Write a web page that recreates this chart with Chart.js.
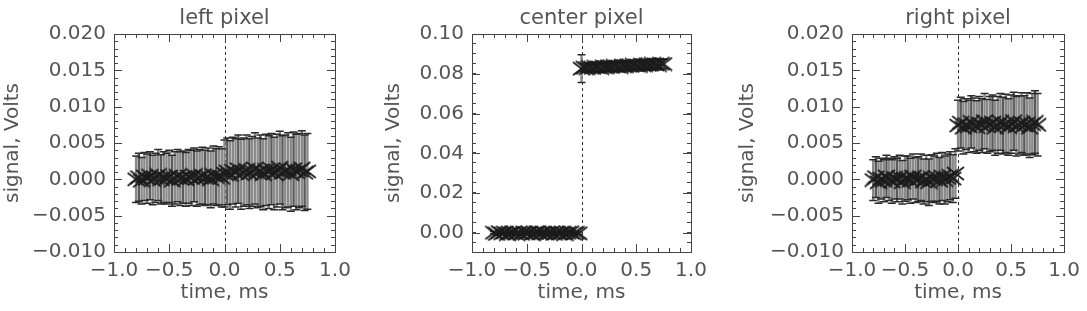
<!DOCTYPE html>
<html>
<head>
<meta charset="utf-8">
<script src="https://cdn.jsdelivr.net/npm/chart.js@4"></script>
<style>
  html, body { margin: 0; padding: 0; background: #fff; }
  #wrap { position: relative; width: 1087px; height: 311px; overflow: hidden; }
  #wrap canvas { position: absolute; top: 0; }
</style>
</head>
<body>
<div id="wrap">
  <canvas id="c-left" width="362" height="311" style="left:0"></canvas>
  <canvas id="c-center" width="362" height="311" style="left:362px"></canvas>
  <canvas id="c-right" width="363" height="311" style="left:724px"></canvas>
</div>
<script>
// sample times (ms), shared by the three pixels
const timeMs = [
  -0.800, -0.775, -0.750, -0.725, -0.700, -0.675, -0.650, -0.625,
  -0.600, -0.575, -0.550, -0.525, -0.500, -0.475, -0.450, -0.425,
  -0.400, -0.375, -0.350, -0.325, -0.300, -0.275, -0.250, -0.225,
  -0.200, -0.175, -0.150, -0.125, -0.100, -0.075, -0.050, -0.025,
  0.000, 0.025, 0.050, 0.075, 0.100, 0.125, 0.150, 0.175,
  0.200, 0.225, 0.250, 0.275, 0.300, 0.325, 0.350, 0.375,
  0.400, 0.425, 0.450, 0.475, 0.500, 0.525, 0.550, 0.575,
  0.600, 0.625, 0.650, 0.675, 0.700, 0.725, 0.750
];

// left pixel signal (V) and error
const leftSignal = [
  0.0000, 0.0003, -0.0002, 0.0004, 0.0001, 0.0005, -0.0001, 0.0002,
  0.0006, 0.0000, 0.0003, 0.0001, 0.0004, -0.0002, 0.0002, 0.0005,
  0.0001, 0.0003, 0.0000, 0.0004, 0.0002, 0.0006, 0.0001, 0.0003,
  0.0005, 0.0002, 0.0004, 0.0000, 0.0006, 0.0003, 0.0005, 0.0002,
  0.0008, 0.0011, 0.0006, 0.0012, 0.0009, 0.0014, 0.0007, 0.0010,
  0.0013, 0.0008, 0.0011, 0.0015, 0.0009, 0.0012, 0.0007, 0.0013,
  0.0010, 0.0014, 0.0008, 0.0012, 0.0016, 0.0009, 0.0011, 0.0013,
  0.0007, 0.0014, 0.0010, 0.0012, 0.0015, 0.0009, 0.0011
];
const leftError = [
  0.0032, 0.0033, 0.0032, 0.0033, 0.0034, 0.0033, 0.0034, 0.0034,
  0.0035, 0.0034, 0.0035, 0.0035, 0.0036, 0.0035, 0.0036, 0.0036,
  0.0037, 0.0036, 0.0037, 0.0037, 0.0038, 0.0037, 0.0038, 0.0038,
  0.0039, 0.0038, 0.0039, 0.0039, 0.0040, 0.0039, 0.0040, 0.0040,
  0.0046, 0.0046, 0.0047, 0.0046, 0.0047, 0.0047, 0.0048, 0.0047,
  0.0048, 0.0048, 0.0048, 0.0049, 0.0048, 0.0049, 0.0049, 0.0049,
  0.0050, 0.0049, 0.0050, 0.0050, 0.0050, 0.0051, 0.0050, 0.0051,
  0.0051, 0.0051, 0.0052, 0.0051, 0.0052, 0.0052, 0.0052
];

// center pixel
const centerSignal = [
  0.0002, -0.0004, 0.0005, -0.0001, 0.0003, -0.0005, 0.0000, 0.0004,
  -0.0003, 0.0002, -0.0004, 0.0004, -0.0001, 0.0003, -0.0005, 0.0001,
  0.0005, -0.0002, 0.0003, -0.0003, 0.0000, 0.0004, -0.0004, 0.0002,
  -0.0002, 0.0003, -0.0005, 0.0002, 0.0004, -0.0003, 0.0001, -0.0001,
  0.0826, 0.0831, 0.0829, 0.0834, 0.0830, 0.0835, 0.0833, 0.0829,
  0.0836, 0.0834, 0.0838, 0.0835, 0.0840, 0.0837, 0.0834, 0.0841,
  0.0839, 0.0843, 0.0840, 0.0845, 0.0842, 0.0839, 0.0846, 0.0844,
  0.0848, 0.0845, 0.0850, 0.0847, 0.0844, 0.0851, 0.0849
];
const centerError = [
  0.0006, 0.0006, 0.0007, 0.0006, 0.0006, 0.0007, 0.0006, 0.0006,
  0.0007, 0.0006, 0.0006, 0.0007, 0.0006, 0.0006, 0.0007, 0.0006,
  0.0006, 0.0007, 0.0006, 0.0006, 0.0007, 0.0006, 0.0006, 0.0007,
  0.0006, 0.0006, 0.0007, 0.0006, 0.0006, 0.0007, 0.0006, 0.0006,
  0.0070, 0.0021, 0.0021, 0.0022, 0.0021, 0.0022, 0.0022, 0.0021,
  0.0022, 0.0022, 0.0023, 0.0022, 0.0022, 0.0023, 0.0022, 0.0023,
  0.0023, 0.0022, 0.0023, 0.0023, 0.0024, 0.0023, 0.0023, 0.0024,
  0.0023, 0.0024, 0.0024, 0.0023, 0.0024, 0.0024, 0.0024
];

// right pixel
const rightSignal = [
  -0.0001, 0.0003, -0.0004, 0.0001, -0.0002, 0.0004, 0.0000, -0.0003,
  0.0002, -0.0001, 0.0003, -0.0004, 0.0001, 0.0002, -0.0002, 0.0004,
  -0.0001, 0.0000, 0.0003, -0.0003, 0.0001, -0.0004, 0.0002, 0.0000,
  0.0003, -0.0002, 0.0004, -0.0001, 0.0002, 0.0005, 0.0001, 0.0008,
  0.0074, 0.0078, 0.0071, 0.0076, 0.0073, 0.0079, 0.0075, 0.0072,
  0.0077, 0.0074, 0.0080, 0.0073, 0.0076, 0.0078, 0.0071, 0.0075,
  0.0079, 0.0074, 0.0077, 0.0072, 0.0076, 0.0080, 0.0073, 0.0075,
  0.0078, 0.0074, 0.0077, 0.0071, 0.0076, 0.0079, 0.0075
];
const rightError = [
  0.0028, 0.0028, 0.0029, 0.0028, 0.0029, 0.0029, 0.0029, 0.0030,
  0.0029, 0.0030, 0.0030, 0.0030, 0.0031, 0.0030, 0.0031, 0.0031,
  0.0031, 0.0031, 0.0032, 0.0031, 0.0032, 0.0032, 0.0032, 0.0032,
  0.0033, 0.0032, 0.0033, 0.0033, 0.0033, 0.0033, 0.0033, 0.0034,
  0.0035, 0.0035, 0.0036, 0.0035, 0.0036, 0.0036, 0.0037, 0.0036,
  0.0037, 0.0037, 0.0038, 0.0037, 0.0038, 0.0038, 0.0038, 0.0039,
  0.0039, 0.0039, 0.0040, 0.0039, 0.0040, 0.0040, 0.0041, 0.0040,
  0.0041, 0.0041, 0.0042, 0.0041, 0.0042, 0.0043, 0.0043
];

// axis ticks
const xTicks = [-1.0, -0.5, 0.0, 0.5, 1.0];
const smallYTicks = [-0.010, -0.005, 0.000, 0.005, 0.010, 0.015, 0.020];
const centerYTicks = [0.00, 0.02, 0.04, 0.06, 0.08, 0.10];

const TEXT = '#555';
const FONT = 'DejaVu Sans';

function fmt(v, digits) {
  if (Math.abs(v) < 1e-9) v = 0;
  return v.toFixed(digits).replace('-', '\u2212');
}

// wide "x" marker like the IDL psym
function makeCross(w, h) {
  const c = document.createElement('canvas');
  c.width = w;
  c.height = h;
  const g = c.getContext('2d');
  g.strokeStyle = '#1c1c1c';
  g.lineWidth = 1.7;
  g.beginPath();
  g.moveTo(1, 1); g.lineTo(w - 1, h - 1);
  g.moveTo(1, h - 1); g.lineTo(w - 1, 1);
  g.stroke();
  return c;
}
const crossMark = makeCross(19, 15);

// frame, inward ticks on all sides, zero line and error bars
const idlFrame = {
  id: 'idlFrame',
  beforeDatasetsDraw(chart, args, opts) {
    const {ctx, chartArea: a, scales: {x, y}} = chart;
    ctx.save();
    ctx.strokeStyle = '#333';
    ctx.lineWidth = 1;
    ctx.setLineDash([3, 3]);
    const x0 = Math.round(x.getPixelForValue(0)) + 0.5;
    ctx.beginPath();
    ctx.moveTo(x0, a.top);
    ctx.lineTo(x0, a.bottom);
    ctx.stroke();
    ctx.setLineDash([]);

    const pts = chart.data.datasets[0].data;
    pts.forEach((p, i) => {
      const px = x.getPixelForValue(p.x);
      const top = y.getPixelForValue(p.y + p.err);
      const bot = y.getPixelForValue(p.y - p.err);
      ctx.strokeStyle = i % 4 === 1 ? '#5a5a5a' : '#8a8a8a';
      ctx.lineWidth = 2.4;
      ctx.beginPath();
      ctx.moveTo(px, top);
      ctx.lineTo(px, bot);
      ctx.stroke();
    });
    pts.forEach((p) => {
      const px = x.getPixelForValue(p.x);
      const top = y.getPixelForValue(p.y + p.err);
      const bot = y.getPixelForValue(p.y - p.err);
      ctx.strokeStyle = '#2a2a2a';
      ctx.lineWidth = 1.5;
      ctx.beginPath();
      ctx.moveTo(px - 4, top);
      ctx.lineTo(px + 4, top);
      ctx.moveTo(px - 4, bot);
      ctx.lineTo(px + 4, bot);
      ctx.stroke();
    });
    ctx.restore();
  },
  afterDraw(chart, args, opts) {
    const {ctx, chartArea: a, scales: {x, y}} = chart;
    ctx.save();
    ctx.strokeStyle = '#444';
    ctx.lineWidth = 1;
    ctx.strokeRect(Math.round(a.left) + 0.5, Math.round(a.top) + 0.5,
      Math.round(a.right - a.left), Math.round(a.bottom - a.top));
    ctx.beginPath();
    const xTick = (v, len) => {
      const px = Math.round(x.getPixelForValue(v)) + 0.5;
      ctx.moveTo(px, a.bottom); ctx.lineTo(px, a.bottom - len);
      ctx.moveTo(px, a.top); ctx.lineTo(px, a.top + len);
    };
    const yTick = (v, len) => {
      const py = Math.round(y.getPixelForValue(v)) + 0.5;
      ctx.moveTo(a.left, py); ctx.lineTo(a.left + len, py);
      ctx.moveTo(a.right, py); ctx.lineTo(a.right - len, py);
    };
    for (let v = x.min; v <= x.max + 1e-9; v += opts.xMinor) xTick(v, 4);
    for (let v = y.min; v <= y.max + 1e-9; v += opts.yMinor) yTick(v, 4);
    x.ticks.forEach((t) => xTick(t.value, 8));
    y.ticks.forEach((t) => yTick(t.value, 8));
    ctx.stroke();
    ctx.restore();
  }
};

function makePanel(id, cfg) {
  const points = timeMs.map((t, i) => ({x: t, y: cfg.signal[i], err: cfg.error[i]}));
  return new Chart(document.getElementById(id), {
    type: 'scatter',
    data: {
      datasets: [{
        data: points,
        pointStyle: crossMark,
        pointRadius: 8,
        showLine: false,
      }]
    },
    plugins: [idlFrame],
    options: {
      responsive: false,
      animation: false,
      layout: {
        padding: {left: cfg.axisLeft, right: cfg.padRight, top: 0, bottom: 6}
      },
      plugins: {
        legend: {display: false},
        tooltip: {enabled: false},
        idlFrame: {xMinor: 0.1, yMinor: cfg.yMinor},
      },
      scales: {
        // top axis only carries the panel title, centred over the plot box
        top: {
          axis: 'x',
          type: 'linear',
          position: 'top',
          min: -1,
          max: 1,
          grid: {display: false, drawTicks: false},
          border: {display: false},
          ticks: {display: false},
          afterFit: (scale) => { scale.height = 34; },
          title: {
            display: true,
            text: cfg.title,
            color: TEXT,
            padding: {top: 6, bottom: 3},
            font: {family: FONT, size: 21},
          },
        },
        x: {
          type: 'linear',
          min: -1,
          max: 1,
          grid: {display: false, drawTicks: false},
          border: {display: false},
          afterBuildTicks: (scale) => { scale.ticks = xTicks.map((v) => ({value: v})); },
          afterFit: (scale) => { scale.height = 53; },
          ticks: {
            color: TEXT,
            padding: 7,
            font: {family: FONT, size: 20},
            maxRotation: 0,
            callback: (v) => fmt(v, 1),
          },
          title: {
            display: true,
            text: 'time, ms',
            color: TEXT,
            padding: 0,
            font: {family: FONT, size: 20},
          },
        },
        y: {
          type: 'linear',
          min: cfg.yMin,
          max: cfg.yMax,
          grid: {display: false, drawTicks: false},
          border: {display: false},
          afterBuildTicks: (scale) => { scale.ticks = cfg.yTicks.map((v) => ({value: v})); },
          afterFit: (scale) => { scale.width = cfg.axisWidth; },
          ticks: {
            color: TEXT,
            padding: 8,
            font: {family: FONT, size: 20},
            callback: (v) => fmt(v, cfg.digits),
          },
          title: {
            display: true,
            text: 'signal, Volts',
            color: TEXT,
            padding: 0,
            font: {family: FONT, size: 20},
          },
        },
      },
    },
  });
}

makePanel('c-left', {
  title: 'left pixel', signal: leftSignal, error: leftError,
  yMin: -0.010, yMax: 0.020, yTicks: smallYTicks, yMinor: 0.001, digits: 3,
  axisLeft: 1, axisWidth: 113, padRight: 27,
});
makePanel('c-center', {
  title: 'center pixel', signal: centerSignal, error: centerError,
  yMin: -0.0095, yMax: 0.10, yTicks: centerYTicks, yMinor: 0.005, digits: 2,
  axisLeft: 20, axisWidth: 90, padRight: 33,
});
makePanel('c-right', {
  title: 'right pixel', signal: rightSignal, error: rightError,
  yMin: -0.010, yMax: 0.020, yTicks: smallYTicks, yMinor: 0.001, digits: 3,
  axisLeft: 12, axisWidth: 116, padRight: 14,
});
</script>
</body>
</html>
